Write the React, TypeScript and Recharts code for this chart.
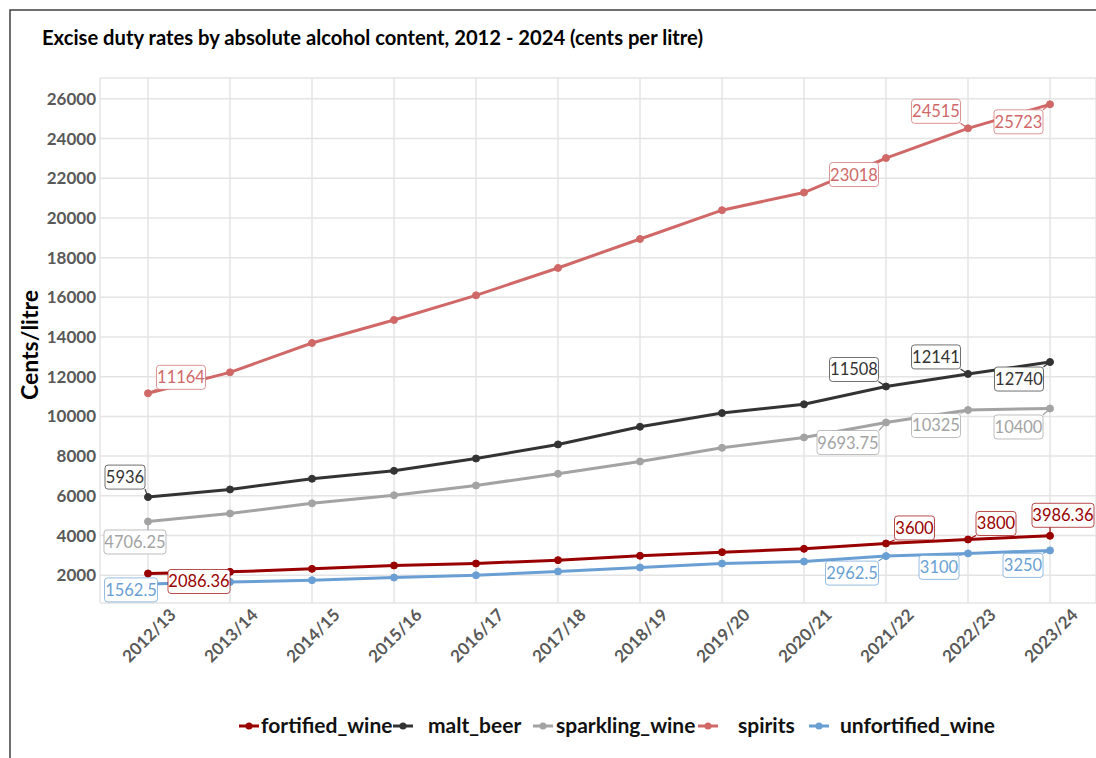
import { CartesianGrid, LabelList, Line, LineChart, XAxis, YAxis } from "recharts"

// Excise duty rates, cents per litre of alcohol, by financial year
const YEARS = [
  "2012/13", "2013/14", "2014/15", "2015/16", "2016/17", "2017/18",
  "2018/19", "2019/20", "2020/21", "2021/22", "2022/23", "2023/24",
]
const FORTIFIED_WINE = [2086.36, 2170, 2320, 2490, 2590, 2760, 2980, 3160, 3330, 3600, 3800, 3986.36]
const MALT_BEER = [5936, 6320, 6860, 7260, 7880, 8590, 9480, 10170, 10610, 11508, 12141, 12740]
const SPARKLING_WINE = [4706.25, 5110, 5620, 6030, 6520, 7110, 7730, 8420, 8940, 9693.75, 10325, 10400]
const SPIRITS = [11164, 12220, 13700, 14860, 16100, 17480, 18940, 20390, 21280, 23018, 24515, 25723]
const UNFORTIFIED_WINE = [1562.5, 1660, 1750, 1880, 2000, 2190, 2390, 2590, 2690, 2962.5, 3100, 3250]

const Y_TICKS = [2000, 4000, 6000, 8000, 10000, 12000, 14000, 16000, 18000, 20000, 22000, 24000, 26000]

const FONT = "Lato, 'Open Sans', sans-serif"
const AXIS_GREY = "#595959"

type Series = { key: string; color: string; values: number[] }

// drawing order: labels of later series sit on top of earlier lines
const SERIES: Series[] = [
  { key: "spirits", color: "#d06868", values: SPIRITS },
  { key: "malt_beer", color: "#333333", values: MALT_BEER },
  { key: "sparkling_wine", color: "#a3a3a3", values: SPARKLING_WINE },
  { key: "unfortified_wine", color: "#6a9fd4", values: UNFORTIFIED_WINE },
  { key: "fortified_wine", color: "#990000", values: FORTIFIED_WINE },
]

const LEGEND_ORDER = ["fortified_wine", "malt_beer", "sparkling_wine", "spirits", "unfortified_wine"]
const LEGEND_MARK_X = [239, 393, 533, 698, 809]
const LEGEND_TEXT_X = [261, 428, 556, 738, 840]

// callout box centre relative to its point, only for the years that carry a label
const LABEL_OFFSETS: Record<string, Record<number, [number, number]>> = {
  spirits: { 0: [33, -16], 9: [-32, 16.5], 10: [-32, -17], 11: [-31.5, 17.5] },
  malt_beer: { 0: [-23, -20], 9: [-32, -17], 10: [-32, -17], 11: [-31, 17] },
  sparkling_wine: { 0: [-13, 20.5], 9: [-38, 20], 10: [-32, 15.5], 11: [-31.5, 18.5] },
  fortified_wine: { 0: [51, 8], 9: [28.5, -15.5], 10: [28, -16], 11: [13, -20.5] },
  unfortified_wine: { 0: [-17, 6], 9: [-34, 17], 10: [-29, 14], 11: [-27, 15] },
}

const data = YEARS.map((year, i) => {
  const row: Record<string, string | number> = { year }
  SERIES.forEach((s) => {
    row[s.key] = s.values[i]
  })
  return row
})

function tagWidth(text: string) {
  let w = 0
  for (const ch of text) w += ch === "." ? 4 : 9
  return w + 4
}

function DataTag({ props, seriesKey, color }: { props: any; seriesKey: string; color: string }) {
  const x = props.x ?? props.viewBox?.x
  const y = props.y ?? props.viewBox?.y
  const offset = LABEL_OFFSETS[seriesKey]?.[props.index]
  if (!offset || x == null || y == null) return null

  const text = String(props.value)
  const w = tagWidth(text)
  const h = 24
  const cx = x + offset[0]
  const cy = y + offset[1]
  const left = cx - w / 2
  const top = cy - h / 2
  const nx = Math.min(Math.max(x, left), left + w)
  const ny = Math.min(Math.max(y, top), top + h)

  return (
    <g>
      {Math.hypot(nx - x, ny - y) > 3 && (
        <line x1={x} y1={y} x2={nx} y2={ny} stroke={color} strokeWidth={1.2} />
      )}
      <rect x={left} y={top} width={w} height={h} rx={3} fill="#ffffff" stroke={color} strokeOpacity={0.7} />
      <text x={cx} y={cy + 6} textAnchor="middle" fill={color} fontSize={16.5} fontFamily={FONT}>
        {text}
      </text>
    </g>
  )
}

function YearTick({ x, y, payload }: any) {
  const ax = x + 29
  const ay = y + 5
  return (
    <text
      x={ax}
      y={ay}
      transform={`rotate(-45 ${ax} ${ay})`}
      textAnchor="end"
      fill={AXIS_GREY}
      fontSize={17}
      fontWeight={700}
      fontFamily={FONT}
    >
      {payload.value}
    </text>
  )
}

export default function App() {
  const colorOf = (key: string) => SERIES.find((s) => s.key === key)?.color ?? "#000"

  return (
    <div style={{ position: "absolute", left: 0, top: 0, width: 1096, height: 758, background: "#fff", overflow: "hidden" }}>
      <div style={{ position: "absolute", left: 0, top: 0 }}>
        <LineChart width={1096} height={758} data={data} margin={{ top: 78, right: 0, bottom: 0, left: 0 }}>
          <CartesianGrid stroke="#e4e4e4" strokeWidth={1.5} />
          <XAxis
            dataKey="year"
            height={155}
            padding={{ left: 48, right: 46 }}
            axisLine={false}
            tickLine={false}
            interval={0}
            tick={<YearTick />}
          />
          <YAxis
            type="number"
            width={100}
            domain={[600, 27050]}
            ticks={Y_TICKS}
            axisLine={false}
            tickLine={false}
            tickSize={0}
            tickMargin={4}
            tick={{ fill: AXIS_GREY, fontSize: 17, fontWeight: 700, fontFamily: FONT }}
          />
          {SERIES.map((s) => (
            <Line
              key={s.key}
              dataKey={s.key}
              stroke={s.color}
              strokeWidth={3}
              dot={{ r: 3.5, fill: s.color, stroke: s.color, strokeWidth: 1 }}
              activeDot={false}
              isAnimationActive={false}
            >
              <LabelList
                dataKey={s.key}
                content={(p: any) => <DataTag props={p} seriesKey={s.key} color={s.color} />}
              />
            </Line>
          ))}
        </LineChart>
      </div>

      <svg width={1096} height={758} style={{ position: "absolute", left: 0, top: 0, pointerEvents: "none" }}>
        {/* chart frame */}
        <path d="M10 760 L10 10 L1100 10" fill="none" stroke="#404040" strokeWidth={1.5} />
        <text x={42} y={45} fontSize={20.2} fontWeight={700} fontFamily={FONT} fill="#000">
          Excise duty rates by absolute alcohol content, 2012 - 2024 (cents per litre)
        </text>
        <text
          x={38}
          y={345}
          transform="rotate(-90 38 345)"
          textAnchor="middle"
          fontSize={23}
          fontWeight={700}
          fontFamily={FONT}
          fill="#000"
        >
          Cents/litre
        </text>
        {LEGEND_ORDER.map((key, i) => (
          <g key={key}>
            <line x1={LEGEND_MARK_X[i]} y1={726} x2={LEGEND_MARK_X[i] + 20} y2={726} stroke={colorOf(key)} strokeWidth={3} />
            <circle cx={LEGEND_MARK_X[i] + 10} cy={726} r={3.5} fill={colorOf(key)} />
            <text x={LEGEND_TEXT_X[i]} y={733} fontSize={21} fontWeight={700} fontFamily={FONT} fill="#111">
              {key}
            </text>
          </g>
        ))}
      </svg>
    </div>
  )
}
